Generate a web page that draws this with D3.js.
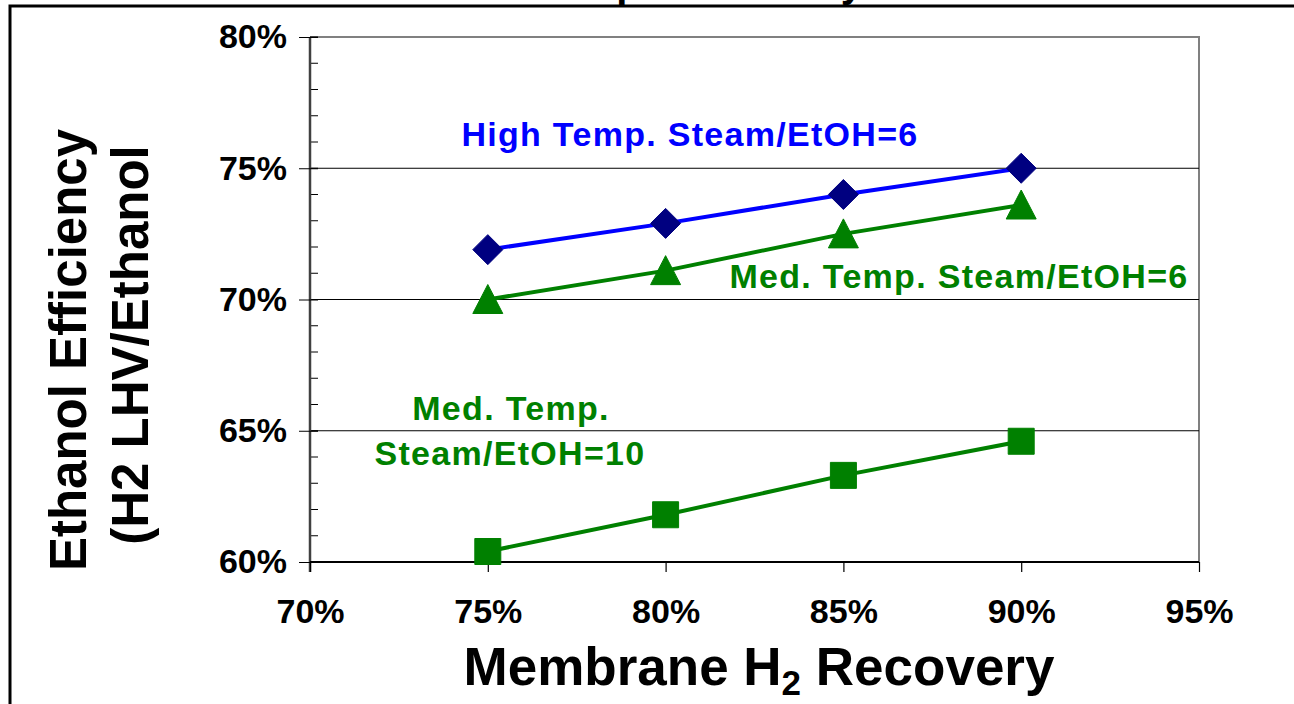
<!DOCTYPE html>
<html>
<head>
<meta charset="utf-8">
<script src="https://cdn.jsdelivr.net/npm/d3@7"></script>
<style>
  html, body { margin: 0; padding: 0; background: #fff; }
  svg { display: block; font-family: Arial, "Liberation Sans", sans-serif; font-weight: bold; }
</style>
</head>
<body>
<svg id="chart" width="1294" height="704"></svg>
<script>
// Membrane H2 recovery (x) and ethanol efficiency (y), as fractions
const recovery = [0.75, 0.80, 0.85, 0.90];
const highTempSteam6 = [0.719, 0.729, 0.740, 0.750];
const medTempSteam6 = [0.700, 0.711, 0.725, 0.736];
const medTempSteam10 = [0.604, 0.618, 0.633, 0.646];

const xTicks = [0.70, 0.75, 0.80, 0.85, 0.90, 0.95];
const yTicks = [0.60, 0.65, 0.70, 0.75, 0.80];
const yMinorTicks = d3.range(0.60, 0.8001, 0.01);

const svg = d3.select("#chart");
const plot = { left: 310, right: 1199, top: 37, bottom: 562 };

const x = d3.scaleLinear().domain([0.70, 0.95]).range([plot.left, plot.right]);
const y = d3.scaleLinear().domain([0.60, 0.80]).range([plot.bottom, plot.top]);
const pct = d3.format(".0%");
const tickFont = 34;

// chart title sits above the frame
svg.append("text")
  .attr("x", 700).attr("y", -3)
  .attr("text-anchor", "middle")
  .attr("font-size", 40)
  .text("Temp. Sensitivity");
svg.append("rect")
  .attr("x", 10).attr("y", 6).attr("width", 1300).attr("height", 720)
  .attr("fill", "none").attr("stroke", "#000").attr("stroke-width", 3);

// plot border (top/right) and gridlines
svg.append("path")
  .attr("d", `M${plot.left},${plot.top}H${plot.right}V${plot.bottom}`)
  .attr("fill", "none").attr("stroke", "#808080").attr("stroke-width", 2);

svg.append("g").selectAll("line")
  .data(yTicks.filter(t => t > 0.601 && t < 0.799))
  .join("line")
  .attr("x1", plot.left).attr("x2", plot.right)
  .attr("y1", d => y(d)).attr("y2", d => y(d))
  .attr("stroke", "#000").attr("stroke-width", 1);

// minor y ticks (inside)
svg.append("g").selectAll("line")
  .data(yMinorTicks)
  .join("line")
  .attr("x1", plot.left).attr("x2", plot.left + 8)
  .attr("y1", d => y(d)).attr("y2", d => y(d))
  .attr("stroke", "#000").attr("stroke-width", 1);

// y axis
const yAxis = svg.append("g")
  .attr("transform", `translate(${plot.left},0)`)
  .call(d3.axisLeft(y).tickValues(yTicks).tickFormat(pct).tickSize(11).tickPadding(12));
yAxis.select(".domain").attr("stroke", "#404040").attr("stroke-width", 2.5).attr("d", `M0,${plot.top}V${plot.bottom + 10}`);
yAxis.selectAll(".tick line").attr("stroke", "#000").attr("x2", -11).attr("x1", 8);
yAxis.selectAll(".tick text").attr("font-size", tickFont).attr("font-family", "Arial, 'Liberation Sans', sans-serif").attr("font-weight", "bold").attr("fill", "#000");

// x axis
const xAxis = svg.append("g")
  .attr("transform", `translate(0,${plot.bottom})`)
  .call(d3.axisBottom(x).tickValues(xTicks).tickFormat(pct).tickSize(10).tickPadding(27));
xAxis.select(".domain").attr("stroke", "#000").attr("stroke-width", 2).attr("d", `M${plot.left},0H${plot.right}`);
xAxis.selectAll(".tick line").attr("stroke", "#000").attr("stroke-width", 1.2);
xAxis.selectAll(".tick text").attr("font-size", tickFont).attr("font-family", "Arial, 'Liberation Sans', sans-serif").attr("font-weight", "bold").attr("fill", "#000");

// series lines
const line = d3.line().x((d, i) => x(recovery[i])).y(d => y(d));
const series = [
  { values: highTempSteam6, stroke: "#0000ff", fill: "#000080", symbol: "diamond" },
  { values: medTempSteam6, stroke: "#008000", fill: "#008000", symbol: "triangle" },
  { values: medTempSteam10, stroke: "#008000", fill: "#008000", symbol: "square" }
];

series.forEach(s => {
  svg.append("path")
    .attr("d", line(s.values))
    .attr("fill", "none").attr("stroke", s.stroke).attr("stroke-width", 4);
});

// markers
const markerPath = {
  diamond: "M0,-15L15,0L0,15L-15,0Z",
  triangle: "M0,-15L15,14L-15,14Z",
  square: "M-13,-13H13V13H-13Z"
};
series.forEach(s => {
  svg.append("g").selectAll("path")
    .data(s.values)
    .join("path")
    .attr("transform", (d, i) => `translate(${x(recovery[i])},${y(d)})`)
    .attr("d", markerPath[s.symbol])
    .attr("fill", s.fill)
    .attr("stroke", s.fill).attr("stroke-width", 1).attr("stroke-linejoin", "round");
});

// series labels
const labels = [
  { text: "High Temp. Steam/EtOH=6", x: 690, y: 146, color: "#0000ff" },
  { text: "Med. Temp. Steam/EtOH=6", x: 959, y: 288, color: "#008000" },
  { text: "Med. Temp.", x: 511, y: 420, color: "#008000" },
  { text: "Steam/EtOH=10", x: 510, y: 465, color: "#008000" }
];
svg.append("g").selectAll("text")
  .data(labels)
  .join("text")
  .attr("x", d => d.x).attr("y", d => d.y)
  .attr("text-anchor", "middle")
  .attr("font-size", 34)
  .attr("letter-spacing", 1.3)
  .attr("fill", d => d.color)
  .text(d => d.text);

// axis titles
const yTitle = svg.append("g").attr("font-size", 51).attr("text-anchor", "middle");
yTitle.append("text")
  .attr("transform", "translate(86,350) rotate(-90)")
  .text("Ethanol Efficiency");
yTitle.append("text")
  .attr("transform", "translate(148,345) rotate(-90)")
  .text("(H2 LHV/Ethanol");

const xTitle = svg.append("text")
  .attr("x", 759).attr("y", 685)
  .attr("text-anchor", "middle")
  .attr("font-size", 53);
xTitle.append("tspan").text("Membrane H");
xTitle.append("tspan").attr("font-size", 35).attr("dy", 10).text("2");
xTitle.append("tspan").attr("dy", -10).text(" Recovery");
</script>
</body>
</html>
